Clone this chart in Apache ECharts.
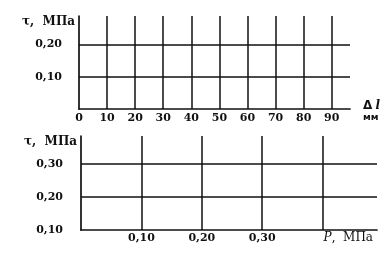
<!DOCTYPE html>
<html><head><meta charset="utf-8">
<script src="https://cdn.jsdelivr.net/npm/echarts@6/dist/echarts.min.js"></script>
<style>html,body{margin:0;padding:0;background:#fff}#c{width:391px;height:256px}</style>
</head><body><div id="c"></div>
<script>
// Tick labels (the chart is an empty measurement grid, no data series)
const topXTicks = [0, 10, 20, 30, 40, 50, 60, 70, 80, 90];
const topYTicks = [0.10, 0.20];
const bottomXTicks = [0.10, 0.20, 0.30];
const bottomYTicks = [0.10, 0.20, 0.30];
const topSeriesValues = [];
const bottomSeriesValues = [];

const INK = '#111';
const FONT = 'DejaVu Serif';
const has = (arr, v) => arr.some(t => Math.abs(t - v) < 1e-6);
const fmtInt = arr => v => has(arr, v) ? String(Math.round(v)) : '';
const fmtDec = arr => v => has(arr, v) ? v.toFixed(2).replace('.', ',') : '';

const axisLine = { show: true, onZero: false, lineStyle: { color: INK, width: 1.7 } };
const split = { show: true, showMinLine: false, showMaxLine: false, lineStyle: { color: INK, width: 1.5 } };
const lbl = (f, m) => ({ formatter: f, margin: m, color: INK, fontFamily: FONT, fontSize: 11, fontWeight: 'bold', hideOverlap: false });
const yName = {
  nameLocation: 'end', nameGap: -6,
  nameTextStyle: { align: 'right', verticalAlign: 'middle', padding: [0, 4, 0, 0],
    color: INK, fontFamily: FONT, fontSize: 12, fontWeight: 'bold' }
};

const chart = echarts.init(document.getElementById('c'), null, { renderer: 'canvas' });
chart.setOption({
  backgroundColor: '#fff',
  animation: false,
  grid: [
    { left: 79, top: 16, width: 271, height: 93 },
    { left: 81, top: 136, width: 296, height: 94 }
  ],
  xAxis: [
    { type: 'value', gridIndex: 0, min: 0, max: 96.5, interval: 10,
      axisLine, axisTick: { show: false }, splitLine: split,
      axisLabel: lbl(fmtInt(topXTicks), 4),
      name: '{d|Δ} {i|l}\n{m|мм}', nameLocation: 'end', nameGap: 13,
      nameTextStyle: { align: 'left', verticalAlign: 'middle', padding: [6, 0, 0, 0], color: INK,
        rich: {
          d: { fontFamily: 'DejaVu Sans', fontWeight: 'bold', fontSize: 12, color: INK, lineHeight: 12 },
          i: { fontFamily: FONT, fontStyle: 'italic', fontWeight: 'bold', fontSize: 12, color: INK, lineHeight: 12 },
          m: { fontFamily: 'DejaVu Sans', fontWeight: 'bold', fontSize: 9.5, color: INK, lineHeight: 12 }
        } } },
    { type: 'value', gridIndex: 1, min: 0, max: 0.49, interval: 0.1,
      axisLine, axisTick: { show: false }, splitLine: split,
      axisLabel: lbl(fmtDec(bottomXTicks), 3),
      name: '{p|P},  МПа', nameLocation: 'end', nameGap: -4,
      nameTextStyle: { align: 'right', verticalAlign: 'top', padding: [2, 0, 0, 0], color: INK,
        fontFamily: FONT, fontSize: 12,
        rich: { p: { fontFamily: FONT, fontStyle: 'italic', fontSize: 12, color: INK } } } }
  ],
  yAxis: [
    Object.assign({ type: 'value', gridIndex: 0, min: 0, max: 0.289, interval: 0.1,
      axisLine, axisTick: { show: false }, splitLine: split,
      axisLabel: lbl(fmtDec(topYTicks), 17), name: 'τ,  МПа' }, yName),
    Object.assign({ type: 'value', gridIndex: 1, min: 0.1, max: 0.385, interval: 0.1,
      axisLine, axisTick: { show: false }, splitLine: split,
      axisLabel: lbl(fmtDec(bottomYTicks), 18), name: 'τ,  МПа' }, yName)
  ],
  series: [
    { type: 'line', xAxisIndex: 0, yAxisIndex: 0, data: topSeriesValues, silent: true },
    { type: 'line', xAxisIndex: 1, yAxisIndex: 1, data: bottomSeriesValues, silent: true }
  ]
});
</script></body></html>
